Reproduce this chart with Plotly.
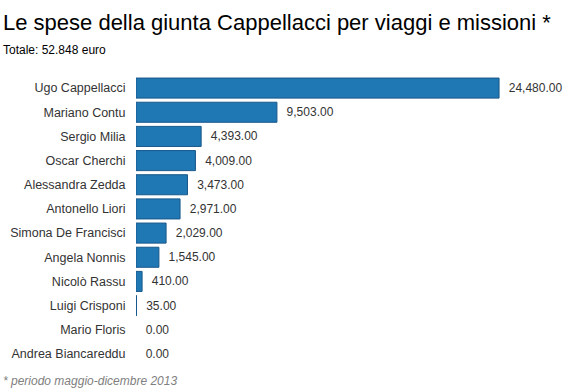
import plotly.graph_objects as go

names = ["Ugo Cappellacci", "Mariano Contu", "Sergio Milia", "Oscar Cherchi",
         "Alessandra Zedda", "Antonello Liori", "Simona De Francisci",
         "Angela Nonnis", "Nicolò Rassu", "Luigi Crisponi", "Mario Floris",
         "Andrea Biancareddu"]
spese = [24480, 9503, 4393, 4009, 3473, 2971, 2029, 1545, 410, 35, 0, 0]

title_text = "Le spese della giunta Cappellacci per viaggi e missioni *"
subtitle_text = "Totale: 52.848 euro"
note_text = "* periodo maggio-dicembre 2013"

W, H = 570, 392
L, T, B, R = 136, 76, 26, 10

FONT = "Liberation Sans, Arial"

fig = go.Figure(go.Bar(
    x=spese, y=names, orientation="h",
    marker=dict(color="#1f77b4",
                line=dict(color="#18588a", width=[1 if v > 0 else 0 for v in spese])),
    text=[f"\u00a0\u00a0{v:,.2f}" for v in spese],
    textposition="outside", cliponaxis=False,
    textfont=dict(family=FONT, size=12, color="#333333"),
    hoverinfo="skip",
))

def px_to_paper(x, y):
    return (x - L) / (W - L - R), 1 - (y - T) / (H - T - B)

ann = []
for txt, x, y, size, color in [
    (title_text, 1, 22, 22, "#000000"),
    (subtitle_text, 1, 50, 12, "#000000"),
    ("<i>" + note_text + "</i>", 1, 381, 12, "#808080"),
]:
    px, py = px_to_paper(x, y)
    ann.append(dict(text=txt, x=px, y=py, xref="paper", yref="paper", showarrow=False,
                    xanchor="left", yanchor="middle",
                    font=dict(size=size, color=color, family=FONT)))

fig.update_layout(
    width=W, height=H,
    margin=dict(l=L, r=R, t=T, b=B, autoexpand=False),
    paper_bgcolor="white", plot_bgcolor="white",
    font=dict(family=FONT, size=12, color="#333333"),
    bargap=0.17,
    showlegend=False,
    xaxis=dict(range=[0, 28590], visible=False, fixedrange=True, automargin=False),
    yaxis=dict(autorange="reversed", showgrid=False, zeroline=False, automargin=False,
               showline=False, ticks="outside", ticklen=7, tickcolor="rgba(0,0,0,0)",
               tickfont=dict(size=12.5, color="#333333"), fixedrange=True),
    annotations=ann,
)

fig.write_html("out.html",
               config={"displayModeBar": False, "staticPlot": True},
               post_script="document.body.style.margin='0';document.body.style.overflow='hidden';")
